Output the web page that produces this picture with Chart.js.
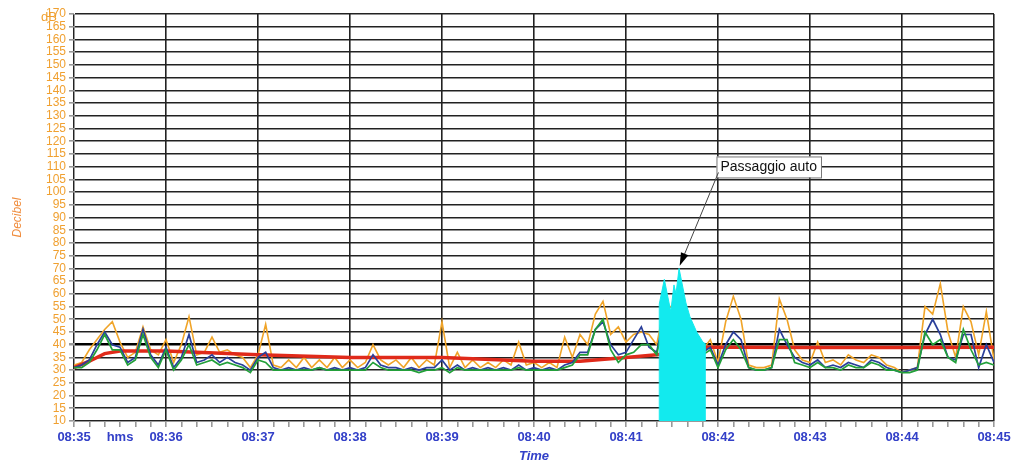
<!DOCTYPE html>
<html>
<head>
<meta charset="utf-8">
<script src="https://cdn.jsdelivr.net/npm/chart.js@4"></script>
<style>
  html, body { margin: 0; padding: 0; background: #fff; }
  #wrap { width: 1015px; height: 466px; }
</style>
</head>
<body>
<div id="wrap"><canvas id="noiseChart"></canvas></div>
<script>
// samples every 5 s from 08:35:00 to 08:45:00
const sampleStep = 5;
const startMinute = 35;

const levelsOrange = [
  32, 33, 38, 42, 46, 49, 41, 35, 37, 47, 38, 36, 42, 33, 40, 51, 36, 37, 43, 37,
  38, 36, 35, 31, 36, 48, 32, 31, 34, 31, 35, 31, 34, 31, 35, 31, 34, 31, 33, 40,
  34, 32, 34, 31, 35, 31, 34, 32, 49, 31, 37, 31, 34, 31, 33, 31, 34, 32, 41, 32,
  33, 31, 33, 31, 43, 35, 44, 40, 52, 57, 44, 47, 41, 44, 45, 44, 40, 55, 55, 60,
  50, 42, 38, 42, 33, 49, 59, 50, 32, 31, 31, 32, 58, 50, 38, 34, 33, 41, 33, 34,
  32, 36, 34, 33, 36, 35, 32, 31, 29, 30, 31, 55, 52, 64, 45, 35, 55, 49, 36, 53,
  34
];
const levelsBlue = [
  31, 32, 34, 40, 45, 40, 39, 33, 35, 46, 36, 32, 39, 31, 35, 44, 33, 34, 36, 33,
  35, 33, 32, 30, 35, 37, 31, 30, 31, 30, 31, 30, 31, 30, 31, 30, 31, 30, 31, 36,
  32, 31, 31, 30, 31, 30, 31, 31, 34, 30, 32, 30, 31, 30, 31, 30, 31, 30, 32, 30,
  31, 30, 31, 30, 32, 33, 37, 37, 46, 49, 40, 36, 37, 42, 47, 39, 37, 52, 52, 56,
  48, 40, 37, 39, 32, 40, 45, 42, 31, 30, 30, 31, 46, 40, 35, 33, 32, 34, 31, 32,
  31, 33, 32, 31, 34, 33, 31, 30, 29, 30, 31, 44, 50, 44, 35, 34, 44, 44, 31, 40,
  33
];
const levelsGreen = [
  31, 31, 33, 38, 44, 38, 38, 32, 34, 44, 35, 31, 38, 30, 34, 40, 32, 33, 34, 32,
  33, 32, 31, 29, 34, 33, 30, 30, 30, 30, 30, 30, 31, 30, 30, 30, 30, 30, 30, 33,
  31, 30, 30, 30, 30, 29, 30, 30, 31, 29, 31, 30, 30, 30, 30, 30, 30, 30, 31, 30,
  30, 30, 30, 30, 31, 32, 36, 36, 46, 50, 38, 33, 36, 37, 40, 40, 36, 50, 50, 55,
  46, 39, 36, 38, 31, 38, 42, 38, 31, 30, 30, 31, 42, 42, 33, 32, 31, 33, 31, 31,
  30, 32, 31, 31, 33, 32, 30, 30, 29, 29, 30, 45, 40, 42, 35, 33, 46, 38, 32, 33,
  32
];

// running Leq (red)
const leqTimes  = [0, 10, 20, 30, 60, 120, 180, 240, 300, 330, 360, 380, 395, 412, 430, 480, 540, 600];
const leqLevels = [31, 33.5, 36.5, 37.5, 37.5, 36, 35, 35, 33.5, 33.5, 35, 36, 37, 39, 39, 38.9, 38.9, 39];

// car passage (cyan)
const carTimes  = [381.7, 381.7, 385, 389.2, 391.3, 392.6, 394.6, 399.1, 401.7, 406.1, 410.2, 411.5, 411.5];
const carLevels = [10, 56, 65.7, 53, 63.5, 60, 70, 56.4, 51, 45, 41, 40.5, 10];

const note = { text: 'Passaggio auto', boxT: 419, boxDb: 114, tipT: 395, tipDb: 71 };

const orange = '#f0a030';
const blue = '#3340c8';
const fontFamily = '"Liberation Sans", Arial, sans-serif';

const series = (values) => values.map((v, i) => ({ x: i * sampleStep, y: v }));
const pairs = (xs, ys) => xs.map((t, i) => ({ x: t, y: ys[i] }));

const extras = {
  id: 'extras',
  afterDraw(chart) {
    const { ctx, scales: { x, y } } = chart;
    ctx.save();

    // unit label at the top of the y axis
    ctx.fillStyle = orange;
    ctx.font = '13px ' + fontFamily;
    ctx.textAlign = 'center';
    ctx.textBaseline = 'middle';
    ctx.fillText('dB', 49, 17);

    // annotation box
    ctx.font = '14px ' + fontFamily;
    const bx = x.getPixelForValue(note.boxT);
    const by = y.getPixelForValue(note.boxDb);
    const tw = ctx.measureText(note.text).width;
    ctx.fillStyle = '#fff';
    ctx.fillRect(bx, by, tw + 8, 21);
    ctx.strokeStyle = '#777';
    ctx.lineWidth = 1;
    ctx.strokeRect(bx + 0.5, by + 0.5, tw + 8, 21);
    ctx.fillStyle = '#111';
    ctx.textAlign = 'left';
    ctx.fillText(note.text, bx + 4, by + 11);

    // arrow to the peak
    const sx = bx + 2, sy = by + 16;
    const tx = x.getPixelForValue(note.tipT);
    const ty = y.getPixelForValue(note.tipDb);
    const ang = Math.atan2(ty - sy, tx - sx);
    ctx.strokeStyle = '#444';
    ctx.beginPath();
    ctx.moveTo(sx, sy);
    ctx.lineTo(tx - 10 * Math.cos(ang), ty - 10 * Math.sin(ang));
    ctx.stroke();
    ctx.fillStyle = '#000';
    ctx.beginPath();
    ctx.moveTo(tx, ty);
    ctx.lineTo(tx - 13 * Math.cos(ang) + 4 * Math.sin(ang), ty - 13 * Math.sin(ang) - 4 * Math.cos(ang));
    ctx.lineTo(tx - 13 * Math.cos(ang) - 4 * Math.sin(ang), ty - 13 * Math.sin(ang) + 4 * Math.cos(ang));
    ctx.closePath();
    ctx.fill();

    ctx.restore();
  }
};

new Chart(document.getElementById('noiseChart'), {
  type: 'line',
  data: {
    datasets: [
      { label: 'Passaggio', data: pairs(carTimes, carLevels), borderColor: '#12eaee', backgroundColor: '#12eaee',
        borderWidth: 1, fill: 'start', order: 0 },
      { label: 'Green', data: series(levelsGreen), borderColor: '#23a03a', borderWidth: 1.7, order: 1 },
      { label: 'Blue', data: series(levelsBlue), borderColor: '#2a3f9a', borderWidth: 1.7, order: 2 },
      { label: 'Leq', data: pairs(leqTimes, leqLevels), borderColor: '#e02a1a', borderWidth: 3.5, order: 3 },
      { label: 'Orange', data: series(levelsOrange), borderColor: '#f0a428', borderWidth: 1.6, order: 4 }
    ]
  },
  options: {
    responsive: true,
    maintainAspectRatio: false,
    animation: false,
    layout: { padding: { top: 14, right: 21, left: 0, bottom: 0 } },
    elements: { point: { radius: 0 }, line: { tension: 0 } },
    plugins: { legend: { display: false }, tooltip: { enabled: false } },
    scales: {
      x: {
        type: 'linear',
        min: 0,
        max: 600,
        afterFit: (s) => { s.height = 45; },
        ticks: {
          stepSize: 10,
          autoSkip: false,
          maxRotation: 0,
          color: blue,
          padding: 3,
          font: { family: fontFamily, size: 13, weight: 'bold' },
          callback: (v) => {
            if (v % 60 === 0) return '08:' + (startMinute + v / 60);
            if (v === 30) return 'hms';
            return '';
          }
        },
        grid: {
          color: (c) => (c.tick && c.tick.value % 60 === 0 ? '#222' : 'rgba(0,0,0,0)'),
          lineWidth: 1.6,
          tickColor: '#999',
          tickLength: 6
        },
        border: { color: '#999' },
        title: {
          display: true,
          text: 'Time',
          color: blue,
          padding: { top: 0, bottom: 2 },
          font: { family: fontFamily, size: 13, weight: 'bold', style: 'italic' }
        }
      },
      y: {
        min: 10,
        max: 170,
        afterFit: (s) => { s.width = 74; },
        ticks: {
          stepSize: 5,
          autoSkip: false,
          color: orange,
          padding: 3,
          font: { family: fontFamily, size: 12 }
        },
        grid: {
          color: (c) => (c.tick && c.tick.value === 40 ? '#000' : '#222'),
          lineWidth: (c) => (c.tick && c.tick.value === 40 ? 2.5 : 1.6),
          tickColor: '#999',
          tickLength: 5
        },
        border: { color: '#999' },
        title: {
          display: true,
          text: 'Decibel',
          color: '#f08c3c',
          padding: { top: 10, bottom: 0 },
          font: { family: fontFamily, size: 12, style: 'italic' }
        }
      }
    }
  },
  plugins: [extras]
});
</script>
</body>
</html>
